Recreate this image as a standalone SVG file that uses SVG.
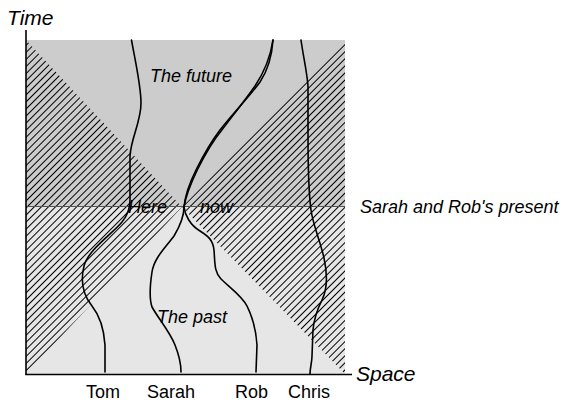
<svg xmlns="http://www.w3.org/2000/svg" width="566" height="402" viewBox="0 0 566 402">
  <defs>
    <pattern id="hatch" patternUnits="userSpaceOnUse" width="5" height="5" patternTransform="rotate(45)">
      <line x1="0.5" y1="0" x2="0.5" y2="5" stroke="#000" stroke-width="1"/>
    </pattern>
  </defs>
  <style>
    text { font-family: "Liberation Sans", Arial, sans-serif; font-size: 18px; fill: #000; }
    .it { font-style: italic; }
    .big { font-size: 21px; }
    .wl { fill: none; stroke: #000; stroke-width: 1.6; stroke-linecap: round; }
    .axis { stroke: #000; stroke-width: 1.6; fill: none; }
  </style>

  <g id="regions">
    <rect x="26" y="40" width="319" height="167" fill="#cccccc"/>
    <rect x="26" y="207" width="319" height="167" fill="#e6e6e6"/>
    <polygon points="26,40 182,207 26,374" fill="url(#hatch)"/>
    <polygon points="345,40 182,207 345,374" fill="url(#hatch)"/>
    <line x1="26" y1="206.5" x2="345" y2="206.5" stroke="#555" stroke-width="1"/>
  </g>

  <g id="axes">
    <line class="axis" x1="26" y1="30" x2="26" y2="374.5"/>
    <line class="axis" x1="25.2" y1="374.5" x2="352" y2="374.5"/>
    <text id="time-label" class="it big" x="7" y="25">Time</text>
    <text id="space-label" class="it big" x="356" y="381">Space</text>
  </g>

  <g id="connectors">
    <path id="tom" class="wl" d="M131.5,40 C134,55 141,85 141,103 C141,122 131,138 130,156 L130,200 C130,210 127,216 122,222 C112,234 88,250 84,266 C80,282 84,296 92,306 C100,316 104,330 105,345 L105,372"/>
    <path id="sarah-past" class="wl" d="M184,207 C184,216 180,226 174,236 C166,247 154,258 152,272 C150,285 149,298 152,307 C158,318 170,332 175,345 C179,355 181,362 181,372"/>
    <path id="sarah-future" class="wl" d="M184,207 C185,196 189,184 196,170 C203,156 210,143 220,130 C234,112 250,96 260,82 C268,70 272,55 273,40"/>
    <path id="rob-future" class="wl" d="M184,207 C186,195 191,183 197.5,169.5 C204.5,155.5 211.5,142.5 221.5,130.5 C234,114 246,99 255,86 C263,74 270,60 273,40"/>
    <path id="rob-past" class="wl" d="M184,207 C185,215 190,225 200,231 C208,236 213,240 214,250 C215,262 214,272 221,279 C229,287 242,296 247,306 C253,318 256,330 257,345 L256,372"/>
    <path id="chris" class="wl" d="M301,40 C303,55 307,72 308,86 L308,136 C308,170 309,195 311,210 C313,225 320,240 324,258 C327,272 328,288 322,300 C318,308 314,318 313,330 L312,356 C312,362 310,368 310,374"/>
  </g>

  <g id="labels">
    <text class="it" x="150" y="82">The future</text>
    <text class="it" x="157" y="323">The past</text>
    <text class="it" x="128" y="213">Here</text>
    <text class="it" x="200" y="213">now</text>
    <text class="it" x="360" y="213">Sarah and Rob's present</text>
    <text x="86" y="398">Tom</text>
    <text x="147" y="398">Sarah</text>
    <text x="235" y="398">Rob</text>
    <text x="288" y="398">Chris</text>
  </g>
</svg>
